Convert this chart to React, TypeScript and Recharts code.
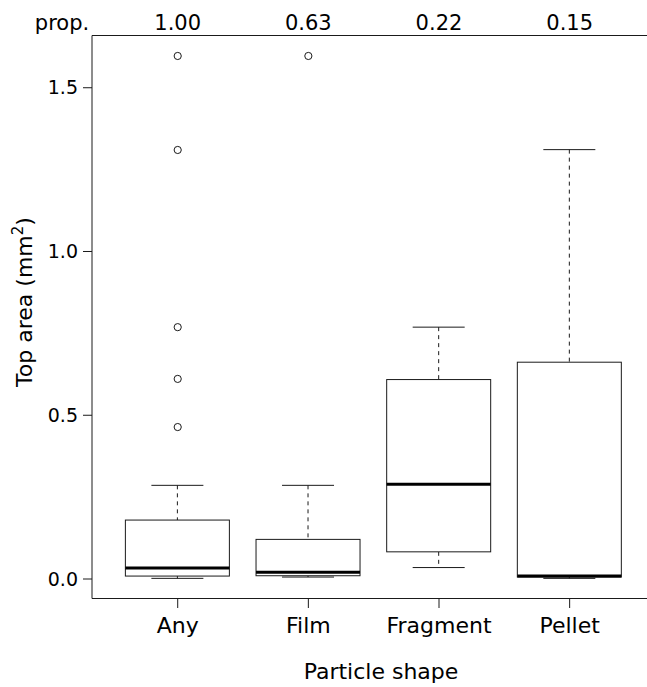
import { ComposedChart, Bar, Scatter, XAxis, YAxis, Customized } from "recharts";

const shapes = ["Any", "Film", "Fragment", "Pellet"];
const positions = [1, 2, 3, 4];
const proportions = [1.0, 0.63, 0.22, 0.15];

// five-number summaries per particle shape (mm²)
const whiskerLow = [0.002, 0.006, 0.035, 0.002];
const lowerQuartile = [0.009, 0.01, 0.083, 0.006];
const medians = [0.034, 0.021, 0.289, 0.009];
const upperQuartile = [0.18, 0.121, 0.609, 0.662];
const whiskerHigh = [0.286, 0.286, 0.769, 1.311];

const outlierPos = [1, 1, 1, 1, 1, 2];
const outlierValues = [1.597, 1.31, 0.769, 0.611, 0.464, 1.597];

const yTicks = [0, 0.5, 1, 1.5];

const FONT = "'DejaVu Sans', Verdana, sans-serif";
const INK = "#1a1a1a";

const boxRows = shapes.map((shape, i) => ({
  shape,
  pos: positions[i],
  low: whiskerLow[i],
  q1: lowerQuartile[i],
  median: medians[i],
  q3: upperQuartile[i],
  high: whiskerHigh[i],
  range: [whiskerLow[i], whiskerHigh[i]],
}));

const outliers = outlierValues.map((value, i) => ({ pos: outlierPos[i], value }));

// The ranged bar spans low..high; the other stats are placed on the same linear scale.
function BoxShape(props: any) {
  const { x, y, width, height } = props;
  const d = props.payload ?? props;
  const top = Math.min(y, y + height);
  const bottom = Math.max(y, y + height);
  const toY = (v: number) => bottom - ((v - d.low) / (d.high - d.low)) * (bottom - top);
  const cx = x + width / 2;
  const capHalf = width / 4;
  const yQ1 = toY(d.q1);
  const yQ3 = toY(d.q3);
  const yMed = toY(d.median);
  return (
    <g>
      <line x1={cx} x2={cx} y1={top} y2={yQ3} stroke={INK} strokeDasharray="4 4" />
      <line x1={cx} x2={cx} y1={yQ1} y2={bottom} stroke={INK} strokeDasharray="4 4" />
      <line x1={cx - capHalf} x2={cx + capHalf} y1={top} y2={top} stroke={INK} />
      <line x1={cx - capHalf} x2={cx + capHalf} y1={bottom} y2={bottom} stroke={INK} />
      <rect x={x} y={yQ3} width={width} height={yQ1 - yQ3} fill="#fff" stroke={INK} />
      <line x1={x} x2={x + width} y1={yMed} y2={yMed} stroke="#000" strokeWidth={3} />
    </g>
  );
}

function OutlierDot(props: any) {
  const { cx, cy } = props;
  return <circle cx={cx} cy={cy} r={3.6} fill="none" stroke={INK} strokeWidth={1} />;
}

function ShapeTick(props: any) {
  const { x, payload } = props;
  return (
    <text x={x} y={633} textAnchor="middle" fontSize={22} fontFamily={FONT} fill="#000">
      {shapes[payload.value - 1]}
    </text>
  );
}

function PropTick(props: any) {
  const { x, payload } = props;
  return (
    <text x={x} y={30} textAnchor="middle" fontSize={21} fontFamily={FONT} fill="#000">
      {proportions[payload.value - 1].toFixed(2)}
    </text>
  );
}

function AreaTick(props: any) {
  const { y, payload } = props;
  return (
    <text x={78} y={y} dy="0.355em" textAnchor="end" fontSize={19} fontFamily={FONT} fill="#000">
      {payload.value.toFixed(1)}
    </text>
  );
}

function Titles() {
  return (
    <g fontFamily={FONT} fill="#000">
      <text x={62} y={30} textAnchor="middle" fontSize={21}>
        prop.
      </text>
      <text x={381} y={679} textAnchor="middle" fontSize={22}>
        Particle shape
      </text>
      <text transform="translate(32, 302) rotate(-90)" textAnchor="middle" fontSize={22}>
        Top area (mm
        <tspan dy={-9} fontSize={15}>
          2
        </tspan>
        <tspan dy={9}>)</tspan>
      </text>
    </g>
  );
}

export default function App() {
  return (
    <div style={{ width: 647, height: 687, background: "#fff" }}>
      <style>{"body{margin:0}"}</style>
      <ComposedChart
        width={647}
        height={687}
        data={boxRows}
        margin={{ top: 0, right: 0, bottom: 0, left: 0 }}
        style={{ fontFamily: FONT }}
      >
        <XAxis
          xAxisId="top"
          orientation="top"
          dataKey="pos"
          type="number"
          domain={[0.344, 4.592]}
          ticks={positions}
          height={35.5}
          tickLine={false}
          axisLine={{ stroke: INK }}
          tick={<PropTick />}
          allowDataOverflow
        />
        <XAxis
          dataKey="pos"
          type="number"
          domain={[0.344, 4.592]}
          ticks={positions}
          height={88.5}
          tickSize={9.5}
          tickLine={{ stroke: INK }}
          axisLine={{ stroke: INK }}
          tick={<ShapeTick />}
          allowDataOverflow
        />
        <YAxis
          type="number"
          domain={[-0.0595, 1.6595]}
          ticks={yTicks}
          width={92}
          tickSize={9}
          tickLine={{ stroke: INK }}
          axisLine={{ stroke: INK }}
          tick={<AreaTick />}
          allowDataOverflow
        />
        <Bar dataKey="range" barSize={104} shape={<BoxShape />} isAnimationActive={false} />
        <Scatter data={outliers} dataKey="value" shape={<OutlierDot />} isAnimationActive={false} />
        <Customized component={Titles} />
      </ComposedChart>
    </div>
  );
}
